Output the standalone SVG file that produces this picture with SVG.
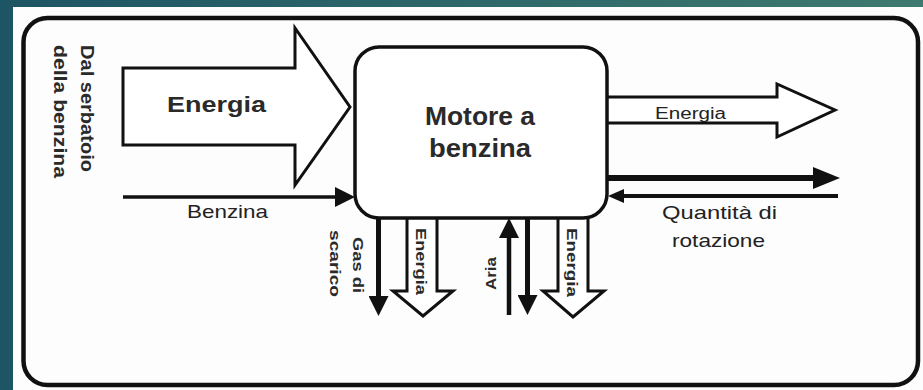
<svg xmlns="http://www.w3.org/2000/svg" width="923" height="390" viewBox="0 0 923 390">
<defs>
<linearGradient id="bg" x1="0" y1="0" x2="1" y2="0">
<stop offset="0" stop-color="#1d5564"/>
<stop offset="1" stop-color="#3e7a6f"/>
</linearGradient>
<marker id="ah" markerUnits="userSpaceOnUse" markerWidth="20" markerHeight="20" refX="1" refY="10" orient="auto">
<path d="M0,0 L20,10 L0,20 z" fill="#111"/>
</marker>
<marker id="ahl" markerUnits="userSpaceOnUse" markerWidth="27" markerHeight="22" refX="1" refY="11" orient="auto">
<path d="M0,0 L27,11 L0,22 z" fill="#111"/>
</marker>
<marker id="ahs" markerUnits="userSpaceOnUse" markerWidth="16" markerHeight="14" refX="1" refY="7" orient="auto">
<path d="M0,0 L16,7 L0,14 z" fill="#111"/>
</marker>
</defs>
<style>
.frame{fill:none;stroke:#111;stroke-width:4.5}
.box{fill:#fff;stroke:#111;stroke-width:3.5}
.hollow{fill:#fff;stroke:#111;stroke-width:3;stroke-linejoin:miter}
.ln{stroke:#111;fill:none}
.tb{font-family:"Liberation Sans",Arial,sans-serif;font-weight:bold;fill:#2a2a2a}
.tn{font-family:"Liberation Sans",Arial,sans-serif;fill:#222}
</style>
<rect x="0" y="0" width="923" height="390" fill="url(#bg)"/>
<rect x="13" y="7" width="910" height="383" fill="#fdfdfd"/>
<g id="frame">
<rect class="frame" x="23.5" y="18" width="894.5" height="367" rx="24"/>
</g>
<g id="tank-label">
<text class="tb" font-size="18" transform="translate(81,45) rotate(90)" textLength="127" lengthAdjust="spacingAndGlyphs">Dal serbatoio</text>
<text class="tb" font-size="18" transform="translate(54,45) rotate(90)" textLength="133" lengthAdjust="spacingAndGlyphs">della benzina</text>
</g>
<g id="connectors">
<polygon class="hollow" points="123,68 295,68 295,28 350,107 295,185 295,145 123,145"/>
<path class="hollow" d="M607,97 H777 V84 L835,110 L777,137 V123 H607"/>
<path class="hollow" d="M407,217 V291 H393 L423,316 L453,291 H437 V217"/>
<path class="hollow" d="M558,217 V291 H543 L573,317 L604,291 H588 V217"/>
<line class="ln" x1="123" y1="197" x2="336" y2="197" stroke-width="3.5" marker-end="url(#ah)"/>
<line class="ln" x1="607" y1="178" x2="814" y2="178" stroke-width="6" marker-end="url(#ahl)"/>
<line class="ln" x1="838" y1="196" x2="623" y2="196" stroke-width="4" marker-end="url(#ahs)"/>
<line class="ln" x1="378.5" y1="217" x2="378.5" y2="297" stroke-width="5" marker-end="url(#ah)"/>
<line class="ln" x1="509" y1="315" x2="509" y2="237" stroke-width="4.5" marker-end="url(#ah)"/>
<line class="ln" x1="527.5" y1="217" x2="527.5" y2="296" stroke-width="5" marker-end="url(#ah)"/>
</g>
<g id="engine">
<rect class="box" x="355" y="47" width="252" height="171" rx="24"/>
<text class="tb" font-size="26" x="480" y="125" text-anchor="middle" textLength="110" lengthAdjust="spacingAndGlyphs">Motore a</text>
<text class="tb" font-size="26" x="480" y="157" text-anchor="middle" textLength="102" lengthAdjust="spacingAndGlyphs">benzina</text>
</g>
<g id="labels">
<text class="tb" font-size="22" x="167" y="112" textLength="99" lengthAdjust="spacingAndGlyphs">Energia</text>
<text class="tn" font-size="19" x="187" y="218" textLength="81" lengthAdjust="spacingAndGlyphs">Benzina</text>
<text class="tn" font-size="16" x="655" y="119" textLength="71" lengthAdjust="spacingAndGlyphs">Energia</text>
<text class="tn" font-size="19" x="662" y="219" textLength="115" lengthAdjust="spacingAndGlyphs">Quantità di</text>
<text class="tn" font-size="19" x="672" y="247" textLength="93" lengthAdjust="spacingAndGlyphs">rotazione</text>
<text class="tb" font-size="15" transform="translate(353,237) rotate(90)" textLength="56" lengthAdjust="spacingAndGlyphs">Gas di</text>
<text class="tb" font-size="15" transform="translate(330,230) rotate(90)" textLength="67" lengthAdjust="spacingAndGlyphs">scarico</text>
<text class="tb" font-size="15" transform="translate(416,228) rotate(90)" textLength="67" lengthAdjust="spacingAndGlyphs">Energia</text>
<text class="tb" font-size="15" transform="translate(567,228) rotate(90)" textLength="69" lengthAdjust="spacingAndGlyphs">Energia</text>
<text class="tb" font-size="15" transform="translate(496,290) rotate(-90)" textLength="33" lengthAdjust="spacingAndGlyphs">Aria</text>
</g>
</svg>
